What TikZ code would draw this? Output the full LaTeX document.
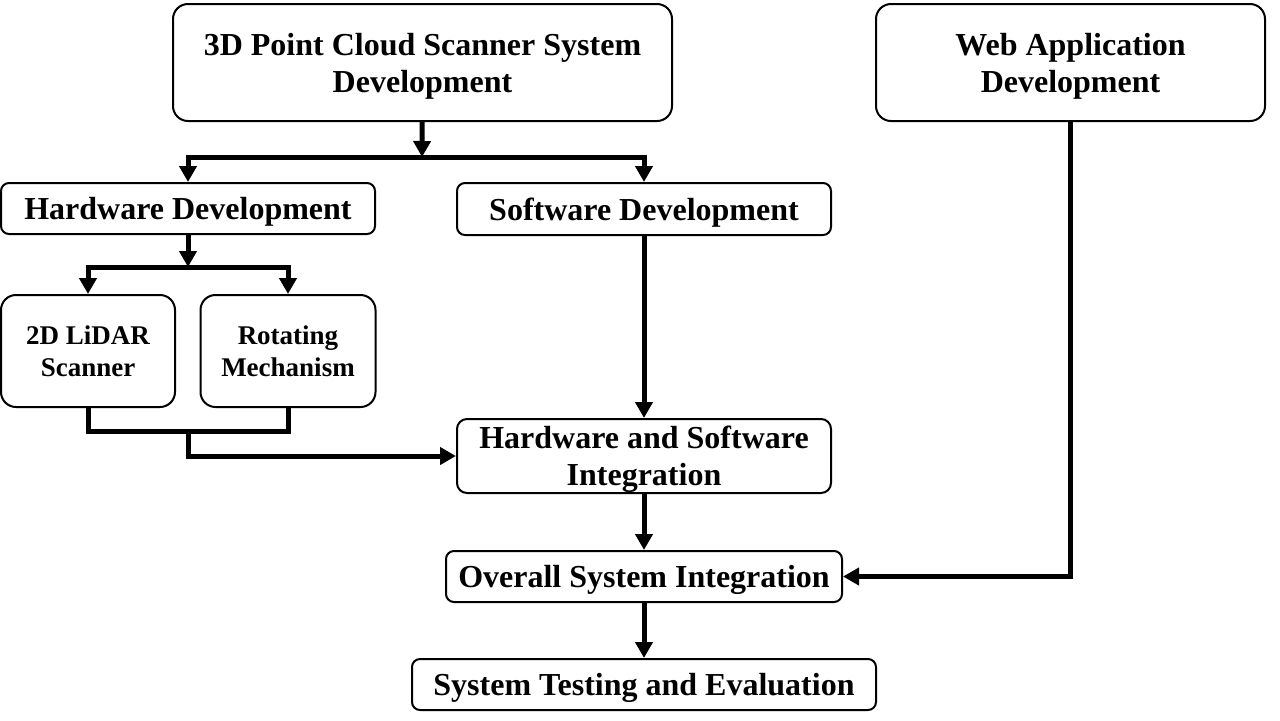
\documentclass[tikz,border=0pt]{standalone}
\usepackage{fontspec}
\setmainfont{Liberation Serif}
\usetikzlibrary{shapes,arrows.meta}

\begin{document}
\begin{tikzpicture}[x=0.5pt, y=-0.5pt, >={Triangle[length=8pt,width=8.5pt]},
    box/.style={draw, line width=1pt, rounded corners=4pt, align=center, inner sep=0pt,
        text depth=0pt, font=\fontsize{16}{18.5}\selectfont\bfseries},
    bigbox/.style={box, rounded corners=7.5pt},
    link/.style={line width=2.5pt, line join=miter}]

\useasboundingbox (0,0) rectangle (1280,720);

%\draw [color=black,thick](0,0) rectangle (1280,720);
\draw
    node at(422.5,62.5)[bigbox,minimum width=249.5pt,minimum height=58.5pt,name=scanner]{3D Point Cloud Scanner System\\Development}
    node at(1070.5,62.5)[bigbox,minimum width=194.5pt,minimum height=58.5pt,name=webapp]{Web Application\\Development}

    node at(188,208.5)[box,minimum width=187pt,minimum height=25.5pt,name=hwdev]{Hardware Development}
    node at(644,209)[box,minimum width=187pt,minimum height=26pt,name=swdev]{Software Development}

    node at(88,351)[bigbox,minimum width=87pt,minimum height=56pt,font=\fontsize{13.5}{16}\selectfont\bfseries,name=lidar]{2D LiDAR\\Scanner}
    node at(288,351)[bigbox,minimum width=87.5pt,minimum height=56pt,font=\fontsize{13.5}{16}\selectfont\bfseries,name=rotmech]{Rotating\\Mechanism}

    node at(644,456)[box,rounded corners=5pt,minimum width=187pt,minimum height=37pt,name=hwsw]{Hardware and Software\\Integration}
    node at(644,576.5)[box,minimum width=198pt,minimum height=25.5pt,name=overall]{Overall System Integration}
    node at(644,684.5)[box,minimum width=232pt,minimum height=25.5pt,name=testing]{System Testing and Evaluation}
;
    \coordinate (split1) at (422,157);
    \coordinate (split2) at (188,267);
    \coordinate (merge) at (188,431);

	\draw[link,->](scanner) -- (split1);
    \draw[link,->](split1) -| (hwdev);
    \draw[link,->](split1) -| (swdev);

    \draw[link,->](hwdev) -- (split2);
    \draw[link,->](split2) -| (lidar);
    \draw[link,->](split2) -| (rotmech);

    \draw[link](lidar) |- (merge) -| (rotmech);
    \draw[link,->](merge) |- (hwsw);

    \draw[link,->](swdev) -- (hwsw);
    \draw[link,->](hwsw) -- (overall);
    \draw[link,->](webapp) |- (overall);
    \draw[link,->](overall) -- (testing);

\end{tikzpicture}
\end{document}
